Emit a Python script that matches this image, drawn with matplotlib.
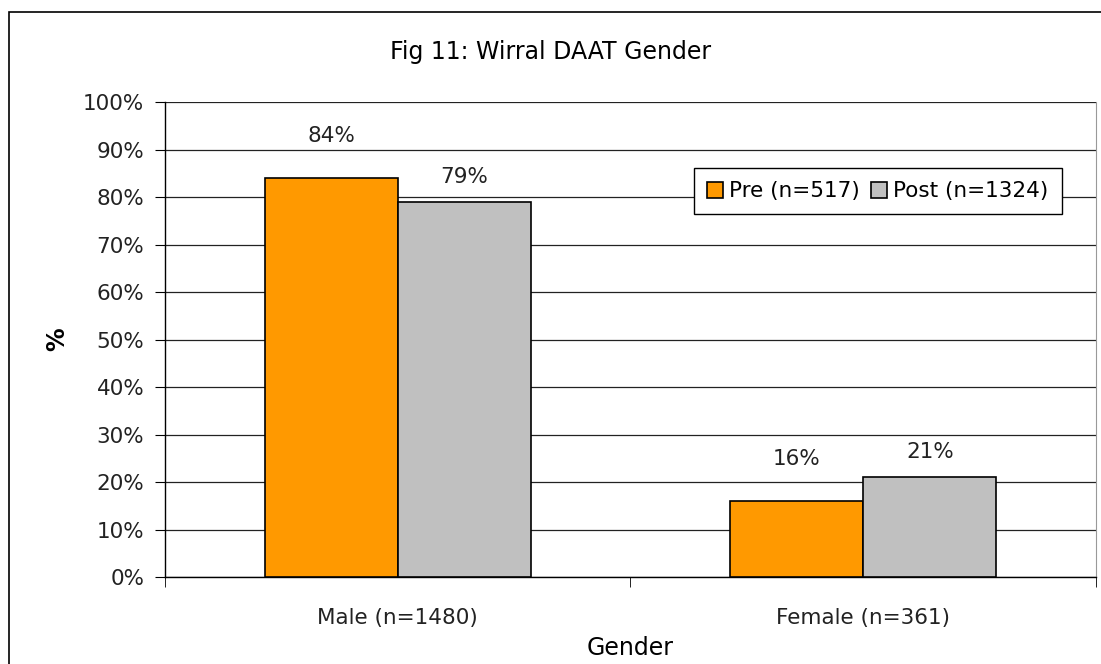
import matplotlib.pyplot as plt
import numpy as np
from matplotlib.patches import Rectangle

categories = ["Male (n=1480)", "Female (n=361)"]
series_names = ["Pre (n=517)", "Post (n=1324)"]
pre_values = [84, 16]
post_values = [79, 21]
colors = ["#FF9900", "#C0C0C0"]

plt.rcParams['font.family'] = ['DejaVu Sans']

fig = plt.figure(figsize=(11.01, 6.64), dpi=100)
# outer chart border
fig.patches.append(Rectangle((9 / 1101, -0.1), 1.2, 1 - 12 / 664 + 0.1,
                             transform=fig.transFigure, fill=False,
                             edgecolor="black", linewidth=1.2))

ax = fig.add_axes([0.1499, 0.131, 0.8455, 0.715])

x = np.arange(len(categories))
w = 0.286
b1 = ax.bar(x - w / 2, pre_values, w, color=colors[0], edgecolor="black",
            linewidth=1.2, label=series_names[0], zorder=3)
b2 = ax.bar(x + w / 2, post_values, w, color=colors[1], edgecolor="black",
            linewidth=1.2, label=series_names[1], zorder=3)

for bars, off in ((b1, 42), (b2, 25)):
    for r in bars:
        ax.annotate(f"{r.get_height():.0f}%",
                    (r.get_x() + r.get_width() / 2, r.get_height()),
                    xytext=(0, off), textcoords="offset pixels",
                    ha="center", va="center", fontsize=15.5, color="#222222")

ax.set_xlim(-0.5, 1.5)
ax.set_ylim(0, 100)
ax.set_yticks(range(0, 101, 10))
ax.set_yticklabels([f"{v}%" for v in range(0, 101, 10)], fontsize=15.5,
                   color="#222222")
ax.set_xticks(x)
ax.set_xticklabels(categories, fontsize=15.5, color="#222222")
ax.set_xticks([-0.5, 0.5, 1.5], minor=True)
ax.tick_params(axis="x", which="major", length=0, pad=22)
ax.tick_params(axis="x", which="minor", length=7, direction="out")
ax.tick_params(axis="y", length=7, direction="out", pad=8)

ax.yaxis.grid(True, color="#222222", linewidth=0.9, zorder=0)
ax.spines["top"].set_visible(False)
ax.spines["right"].set_color("#999999")
ax.spines["left"].set_linewidth(1.0)
ax.spines["bottom"].set_linewidth(1.0)

ax.set_ylabel("%", fontsize=17, fontweight="bold", labelpad=10)
ax.set_xlabel("Gender", fontsize=17, labelpad=6)

leg = ax.legend(loc="upper left", bbox_to_anchor=(0.568, 0.861), ncol=2,
                fontsize=15.5, frameon=True, fancybox=False, framealpha=1,
                edgecolor="black", handlelength=0.75, handleheight=0.75,
                handletextpad=0.3, columnspacing=0.5, borderpad=0.6,
                borderaxespad=0)
leg.get_frame().set_linewidth(1.0)

fig.text(0.5, 1 - 52 / 664, "Fig 11: Wirral DAAT Gender", ha="center",
         va="center", fontsize=17)

fig.savefig("out.png", dpi=100)
